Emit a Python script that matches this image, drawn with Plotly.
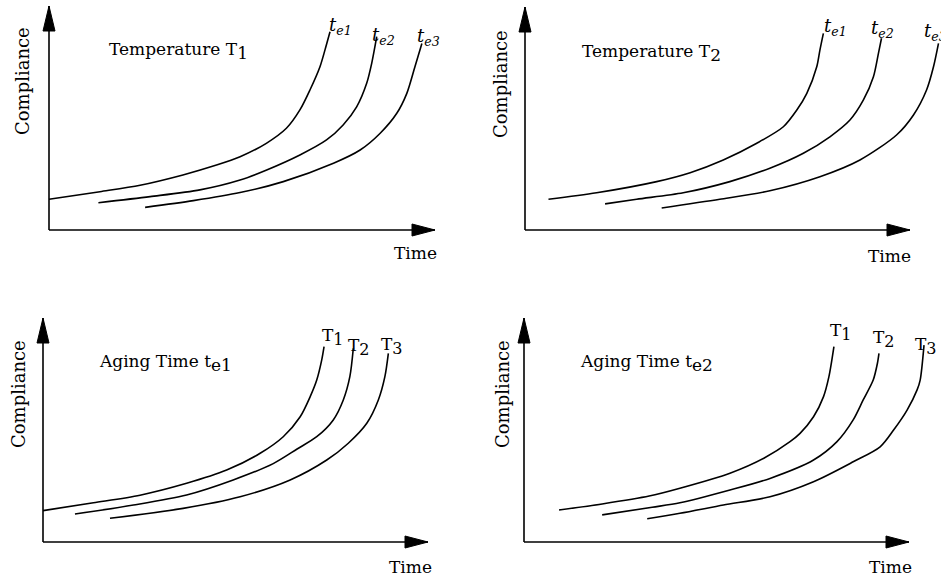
import plotly.graph_objects as go

W, H = 941, 583
FONT = "DejaVu Serif"

# ---------------- data (axis units: 0..100 = origin .. arrow tip) ----------------
# Panel A: Temperature T1, aging times te1, te2, te3
a_te1_x = [0, 13.2, 23.6, 34.7, 43.4, 49.5, 56.3, 61.5, 65.0, 67.6, 70.2, 71.5, 72.8]
a_te1_y = [13.7, 17.1, 20.0, 24.6, 29.0, 32.7, 38.7, 45.4, 53.6, 62.5, 72.9, 80.4, 88.5]
a_te2_x = [12.8, 26.2, 39.1, 49.5, 56.4, 65.0, 71.9, 76.2, 79.7, 82.3, 83.6, 84.9]
a_te2_y = [12.2, 14.9, 17.9, 22.3, 26.8, 33.5, 40.2, 46.9, 55.0, 65.5, 74.4, 86.3]
a_te3_x = [24.9, 37.4, 49.5, 60.7, 73.7, 80.6, 85.8, 90.1, 92.7, 94.8, 96.6]
a_te3_y = [10.1, 13.1, 16.7, 21.6, 29.8, 35.7, 43.2, 52.1, 61.0, 72.9, 83.3]

# Panel B: Temperature T2
b_te1_x = [6.1, 18.6, 34.2, 42.9, 51.5, 60.2, 67.1, 70.6, 73.2, 75.8, 76.6, 77.5]
b_te1_y = [13.8, 16.7, 21.7, 25.7, 31.4, 38.9, 46.3, 53.8, 61.3, 73.3, 80.7, 88.2]
b_te2_x = [20.8, 29.0, 41.1, 53.2, 63.6, 72.3, 79.2, 84.4, 87.9, 90.5, 91.8, 92.6]
b_te2_y = [11.7, 13.8, 16.7, 21.7, 27.7, 34.4, 41.8, 49.3, 58.3, 68.7, 79.2, 86.0]
b_te3_x = [35.5, 50.6, 63.6, 76.6, 87.0, 96.5, 100.9, 104.3, 106.1, 107.4]
b_te3_y = [9.9, 13.8, 17.6, 23.9, 31.4, 42.6, 51.6, 62.8, 73.2, 83.7]

# Panel C: Aging time te1, temperatures T1, T2, T3
c_T1_x = [0, 13.1, 25.2, 37.3, 47.7, 56.4, 62.4, 66.8, 69.4, 71.1, 72.4, 73.0]
c_T1_y = [14.0, 17.5, 20.9, 26.2, 32.1, 39.6, 47.0, 55.9, 64.9, 72.3, 81.3, 87.2]
c_T2_x = [8.3, 23.5, 37.3, 49.4, 59.8, 66.0, 71.1, 75.4, 78.0, 79.7, 80.6]
c_T2_y = [12.5, 16.5, 21.0, 27.7, 35.0, 41.5, 47.0, 54.5, 63.4, 73.8, 86.5]
c_T3_x = [17.4, 36.4, 51.2, 64.2, 73.7, 79.3, 84.1, 87.1, 88.8, 89.7]
c_T3_y = [10.6, 15.0, 20.2, 27.7, 36.6, 44.1, 53.0, 63.4, 73.8, 84.2]

# Panel D: Aging time te2
d_T1_x = [9.1, 20.3, 32.5, 40.5, 53.5, 62.3, 69.1, 71.7, 75.2, 77.8, 79.2, 80.5]
d_T1_y = [14.3, 17.0, 20.5, 24.0, 30.7, 37.4, 44.8, 48.5, 55.9, 64.9, 73.8, 87.2]
d_T2_x = [20.3, 33.3, 40.5, 53.5, 63.9, 75.2, 81.3, 85.5, 88.1, 90.7, 91.8, 92.2]
d_T2_y = [12.1, 15.5, 17.5, 23.2, 28.4, 36.6, 44.8, 54.5, 63.4, 72.3, 79.8, 84.2]
d_T3_x = [32.0, 40.5, 51.8, 63.9, 75.2, 85.5, 92.5, 96.0, 99.5, 102.1, 102.9, 103.9]
d_T3_y = [10.4, 12.8, 16.5, 20.2, 26.9, 35.8, 42.5, 50.0, 58.9, 67.9, 72.3, 87.9]


def big_sub(base, sub, size):
    return f"{base}<sub><span style='font-size:{size}px'>{sub}</span></sub>"


te_labels = ["<i>t</i><sub><i>e1</i></sub>", "<i>t</i><sub><i>e2</i></sub>", "<i>t</i><sub><i>e3</i></sub>"]
T_labels = [big_sub("T", "1", 16), big_sub("T", "2", 16), big_sub("T", "3", 16)]
titles = [big_sub("Temperature T", "1", 17), big_sub("Temperature T", "2", 17),
          big_sub("Aging Time t", "e1", 17), big_sub("Aging Time t", "e2", 17)]
y_title = "Compliance"
x_title = "Time"

panels = [
    dict(curves=[(a_te1_x, a_te1_y), (a_te2_x, a_te2_y), (a_te3_x, a_te3_y)], labels=te_labels),
    dict(curves=[(b_te1_x, b_te1_y), (b_te2_x, b_te2_y), (b_te3_x, b_te3_y)], labels=te_labels),
    dict(curves=[(c_T1_x, c_T1_y), (c_T2_x, c_T2_y), (c_T3_x, c_T3_y)], labels=T_labels),
    dict(curves=[(d_T1_x, d_T1_y), (d_T2_x, d_T2_y), (d_T3_x, d_T3_y)], labels=T_labels),
]

# ---------------- layout geometry (pixels) ----------------
geom = [
    dict(ox=49, oy=230, tx=435, ty=6, L=0, R=470, T=0, B=290),
    dict(ox=525, oy=230, tx=910, ty=7, L=470, R=941, T=0, B=290),
    dict(ox=43, oy=542, tx=428, ty=318, L=0, R=470, T=290, B=583),
    dict(ox=524, oy=542, tx=909, ty=318, L=470, R=941, T=290, B=583),
]
title_pos = [(107, 51), (580, 53), (97, 363), (578, 363)]
ylab_pos = [(23, 81), (500, 84), (18, 394), (502, 394)]
xlab_pos = [(415, 253), (889, 256), (410, 567), (890, 567)]
label_font = [18, 18, 17, 17]
# per-curve label offsets (px) from the curve end
label_shift = [
    [(-3, -8), (-7, -13), (-7, -8)],
    [(-1, -8), (-13, -5), (-16, -3)],
    [(-4, -4), (-7, -13), (-9, -7)],
    [(-6, 1), (-8, 0), (-11, -15)],
]

fig = go.Figure()
shapes, annotations = [], []

for i, (p, g) in enumerate(zip(panels, geom)):
    n = "" if i == 0 else str(i + 1)
    xa, ya = "x" + n, "y" + n
    dx, dy = g["tx"] - g["ox"], g["oy"] - g["ty"]
    xr = [(g["L"] - g["ox"]) / dx * 100, (g["R"] - g["ox"]) / dx * 100]
    yr = [(g["oy"] - g["B"]) / dy * 100, (g["oy"] - g["T"]) / dy * 100]
    fig.layout["xaxis" + n] = dict(domain=[g["L"] / W, g["R"] / W], range=xr, visible=False,
                                   fixedrange=True, anchor=ya)
    fig.layout["yaxis" + n] = dict(domain=[(H - g["B"]) / H, (H - g["T"]) / H], range=yr,
                                   visible=False, fixedrange=True, anchor=xa)
    for k, ((cx, cy), lab) in enumerate(zip(p["curves"], p["labels"])):
        fig.add_trace(go.Scatter(x=cx, y=cy, mode="lines", xaxis=xa, yaxis=ya,
                                 line=dict(color="black", width=1.6, shape="spline", smoothing=0.8),
                                 hoverinfo="skip", showlegend=False))
        sx, sy = label_shift[i][k]
        annotations.append(dict(x=cx[-1], y=cy[-1], xref=xa, yref=ya, text=lab, showarrow=False,
                                xanchor="left", yanchor="bottom", xshift=sx, yshift=sy,
                                font=dict(family=FONT, size=label_font[i], color="black")))
    # axes lines
    shapes.append(dict(type="line", xref=xa, yref=ya, x0=0, y0=0, x1=100, y1=0,
                       line=dict(color="black", width=1.6)))
    shapes.append(dict(type="line", xref=xa, yref=ya, x0=0, y0=0, x1=0, y1=100,
                       line=dict(color="black", width=1.6)))
    # arrow heads
    shapes.append(dict(type="path", xref=xa, yref=ya, xsizemode="pixel", ysizemode="pixel",
                       xanchor=100, yanchor=0, path="M -23,6 L 0,0 L -23,-6 Z",
                       fillcolor="black", line=dict(color="black", width=1)))
    shapes.append(dict(type="path", xref=xa, yref=ya, xsizemode="pixel", ysizemode="pixel",
                       xanchor=0, yanchor=100, path="M -6,-25 L 0,0 L 6,-25 Z",
                       fillcolor="black", line=dict(color="black", width=1)))
    # texts
    tx_, ty_ = title_pos[i]
    annotations.append(dict(x=tx_ / W, y=1 - ty_ / H, xref="paper", yref="paper", text=titles[i],
                            showarrow=False, xanchor="left", yanchor="middle",
                            font=dict(family=FONT, size=17, color="black")))
    lx, ly = ylab_pos[i]
    annotations.append(dict(x=lx / W, y=1 - ly / H, xref="paper", yref="paper", text=y_title,
                            showarrow=False, textangle=-90, xanchor="center", yanchor="middle",
                            font=dict(family=FONT, size=18, color="black")))
    bx, by = xlab_pos[i]
    annotations.append(dict(x=bx / W, y=1 - by / H, xref="paper", yref="paper", text=x_title,
                            showarrow=False, xanchor="center", yanchor="middle",
                            font=dict(family=FONT, size=17, color="black")))

fig.update_layout(width=W, height=H, margin=dict(l=0, r=0, t=0, b=0),
                  paper_bgcolor="white", plot_bgcolor="white",
                  shapes=shapes, annotations=annotations, showlegend=False)

fig.write_html("out.html", config=dict(displayModeBar=False),
               post_script="document.body.style.margin='0px';document.body.style.overflow='hidden';")
